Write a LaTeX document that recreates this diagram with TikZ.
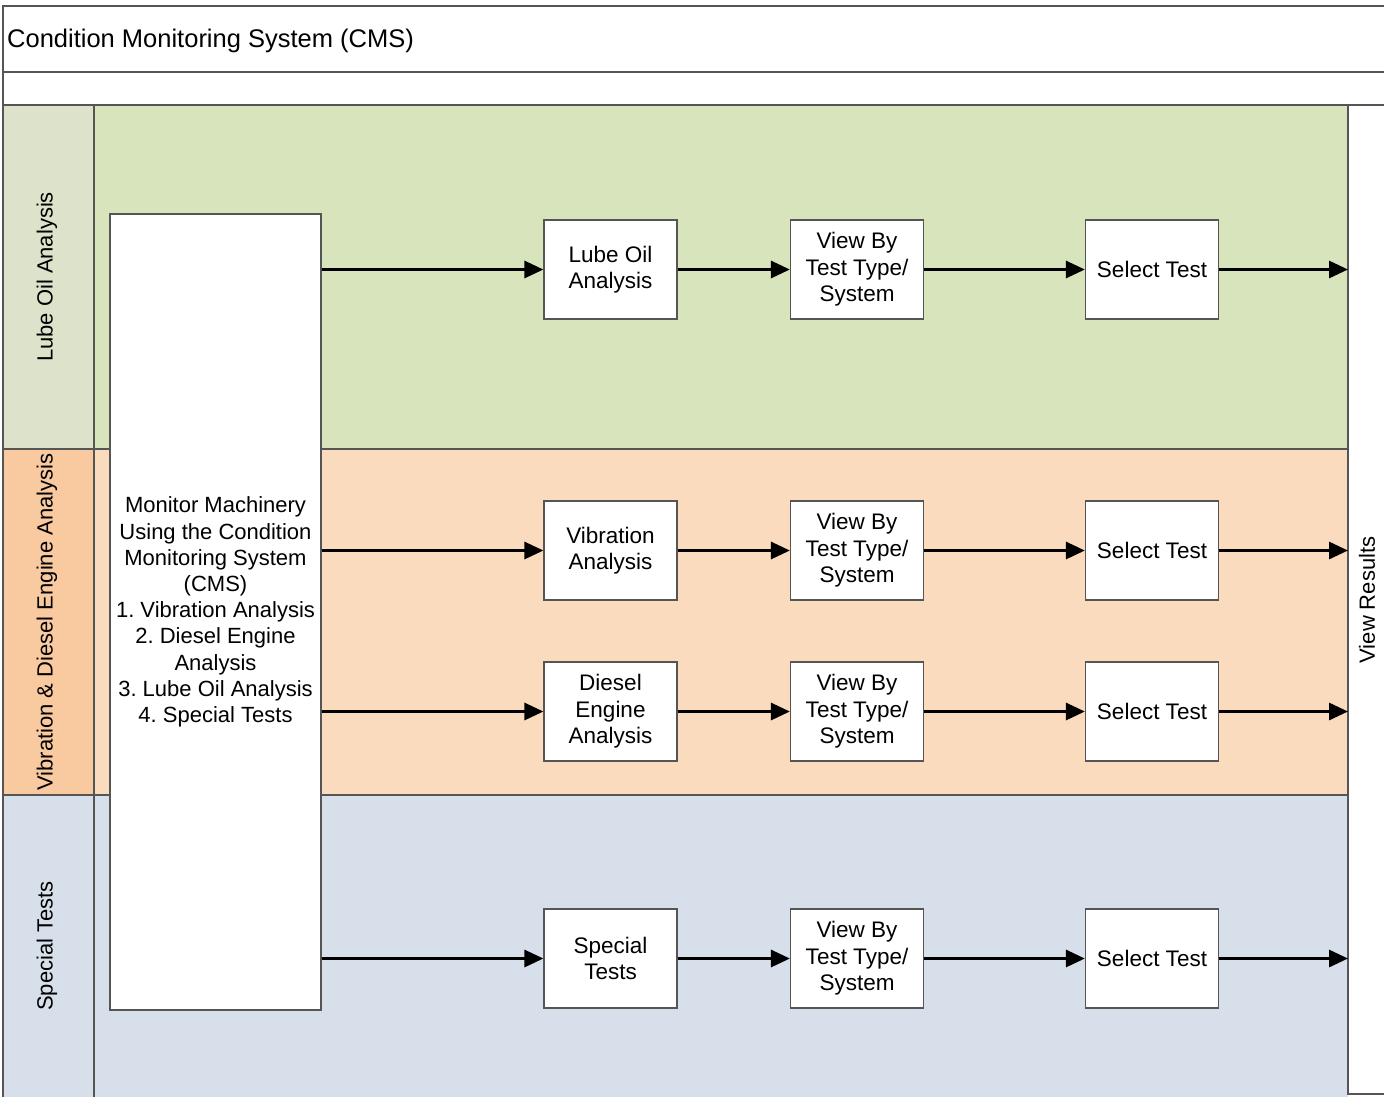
\documentclass[tikz,border=0pt]{standalone}
\usepackage{fontspec}
\setmainfont{Liberation Sans}
\usetikzlibrary{arrows.meta}
\definecolor{laneAc}{HTML}{D8E4BC}
\definecolor{laneAl}{HTML}{DDE2CA}
\definecolor{laneBc}{HTML}{FBDBBD}
\definecolor{laneBl}{HTML}{F9C9A0}
\definecolor{laneCc}{HTML}{D7E0EA}
\definecolor{laneCl}{HTML}{D7E0EA}
\definecolor{edge}{HTML}{555555}
\frenchspacing
\begin{document}
\begin{tikzpicture}[x=1pt,y=-1pt,
  frame/.style={draw=edge,line width=1.3pt},
  box/.style={draw=edge,line width=1.2pt,fill=white,minimum width=133pt,minimum height=99pt,align=center,inner sep=2pt,font=\fontsize{22.5}{26.5}\selectfont},
  flow/.style={line width=3pt,-{Triangle[length=19pt,width=17pt]}},
  lanelabel/.style={rotate=90,font=\fontsize{22}{26}\selectfont}]
\useasboundingbox (0,0) rectangle (1384,1096);
% header
\fill[white] (0,0) rectangle (1384,1096);
\draw[frame] (1390,6) -- (3,6) -- (3,1100);
\draw[frame] (3,72) -- (1390,72);
\draw[frame] (3,105) -- (1390,105);
\node[anchor=west,inner sep=0pt,font=\fontsize{25.5}{30}\selectfont] (title) at (7,41) {Condition Monitoring System (CMS)};
% lanes
\fill[laneAl] (3,105) rectangle (94,449);
\fill[laneAc] (94,105) rectangle (1348,449);
\fill[laneBl] (3,449) rectangle (94,795);
\fill[laneBc] (94,449) rectangle (1348,795);
\fill[laneCl] (3,795) rectangle (94,1100);
\fill[laneCc] (94,795) rectangle (1348,1100);
\draw[frame] (3,105) -- (1390,105);
\draw[frame] (3,449) -- (1348,449);
\draw[frame] (3,795) -- (1348,795);
\draw[frame] (94,105) -- (94,1100);
\draw[frame] (1348,105) -- (1348,1094) -- (1390,1094);
\draw[frame] (3,105) -- (3,1100);
\node[lanelabel] (l1) at (47,277) {Lube Oil Analysis};
\node[lanelabel] (l2) at (47,622) {Vibration \& Diesel Engine Analysis};
\node[lanelabel] (l3) at (47,946) {Special Tests};
\node[lanelabel] (vr) at (1367,600) {View Results};
% main box
\node[box,minimum width=211pt,minimum height=796pt] (main) at (215.5,612) {};
\node[align=center,font=\fontsize{22}{26.2}\selectfont] (maintext) at (215.5,612) {Monitor Machinery\\Using the Condition\\Monitoring System\\(CMS)\\1. Vibration Analysis\\2. Diesel Engine\\Analysis\\3. Lube Oil Analysis\\4. Special Tests};
% row nodes
\node[box] (a1) at (610.5,269.5) {Lube Oil\\Analysis};
\node[box] (a2) at (857,269.5) {View By\\Test Type/\\System};
\node[box] (a3) at (1152,269.5) {Select Test};
\node[box] (b1) at (610.5,550.5) {Vibration\\Analysis};
\node[box] (b2) at (857,550.5) {View By\\Test Type/\\System};
\node[box] (b3) at (1152,550.5) {Select Test};
\node[box] (c1) at (610.5,711.5) {Diesel\\Engine\\Analysis};
\node[box] (c2) at (857,711.5) {View By\\Test Type/\\System};
\node[box] (c3) at (1152,711.5) {Select Test};
\node[box] (d1) at (610.5,958.5) {Special\\Tests};
\node[box] (d2) at (857,958.5) {View By\\Test Type/\\System};
\node[box] (d3) at (1152,958.5) {Select Test};
\coordinate (ea) at (1348,269.5);
\coordinate (eb) at (1348,550.5);
\coordinate (ec) at (1348,711.5);
\coordinate (ed) at (1348,958.5);
\foreach \r in {a,b,c,d}{
  \draw[flow] (main.east |- \r1.west) -- (\r1.west);
  \draw[flow] (\r1) -- (\r2);
  \draw[flow] (\r2) -- (\r3);
  \draw[flow] (\r3.east) -- (e\r);
}
\end{tikzpicture}
\end{document}
